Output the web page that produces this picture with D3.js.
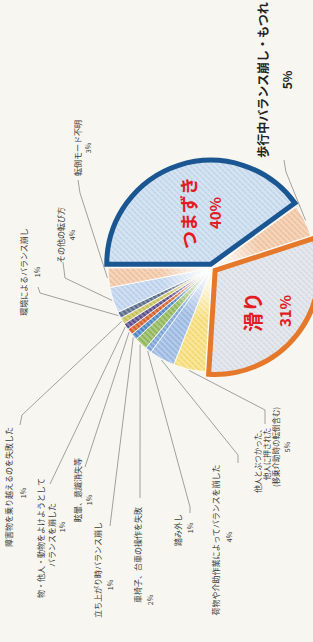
<!DOCTYPE html>
<html>
<head>
<meta charset="utf-8">
<script src="https://cdn.jsdelivr.net/npm/d3@7"></script>
<style>
html, body { margin: 0; padding: 0; background: #f7f6f0; }
svg { display: block; font-family: "Noto Sans CJK JP", "Noto Sans", sans-serif; }
</style>
</head>
<body>
<div id="chart"></div>
<script>
'use strict'

/*
 @Data: slices in clockwise order, starting at 滑り
*/
let categories = ['滑り', '他人とぶつかった', '荷物や介助作業', '踏み外し', '車椅子・台車', '立ち上がり時',
  '眩暈・意識消失', '物・他人・動物をよける', '障害物', '環境', 'その他', '転倒モード不明', 'つまずき', '歩行中']
let values = [31, 5, 4, 1, 2, 1, 1, 1, 1, 1, 4, 3, 40, 5]
let labelTexts = [
  ['滑り'],
  ['他人とぶつかった、', '他人に押された', '(移乗介助時の転倒含む)'],
  ['荷物や介助作業によってバランスを崩した'],
  ['踏み外し'],
  ['車椅子、台車の操作を失敗'],
  ['立ち上がり時バランス崩し'],
  ['眩暈、意識消失等'],
  ['物・他人・動物をよけようとして', 'バランスを崩した'],
  ['障害物を乗り越えるのを失敗した'],
  ['環境によるバランス崩し'],
  ['その他の転び方'],
  ['転倒モード不明'],
  ['つまずき'],
  ['歩行中バランス崩し・もつれ']
]
let highlighted = ['滑り', 'つまずき']

/*
 @Styles
*/
let fillColors = ['#dde1e8', '#f8de7a', '#9dbbe3', '#7ea6d8', '#93b85c', '#4f88c6', '#d9622b',
  '#5c4f8c', '#c9c25a', '#5b6d8a', '#c0d4ee', '#f3c7a5', '#c8dbef', '#f3c7a5']
let borderColors = {'滑り': '#e5782a', 'つまずき': '#1a5792'}

/*
 @Layout (the picture is turned a quarter turn, text reads bottom to top)
*/
let width = 313
let height = 642
let cx = 212
let cy = 268
let radius = 104
let explode = 4
let startDeg = 72

// label line centres, percent position and leader points, by category
let labelLayout = {
  '滑り': {lines: [[252, 312]], pct: [284, 311], size: 20, pctSize: 15},
  'つまずき': {lines: [[188, 213]], pct: [214, 213], size: 18, pctSize: 15},
  '他人とぶつかった': {lines: [[257, 459], [266, 454], [275, 447]], pct: [287, 447], leader: [[265, 424], [265, 410]], size: 7.5},
  '荷物や介助作業': {lines: [[215, 540]], pct: [229, 537], leader: [[238, 463], [238, 455]]},
  '踏み外し': {lines: [[177, 530]], pct: [190, 528], leader: [[190, 513], [190, 507]]},
  '車椅子・台車': {lines: [[137, 555]], pct: [150, 600], leader: [[140, 498]]},
  '立ち上がり時': {lines: [[97, 570]], pct: [110, 585], leader: [[110, 526]]},
  '眩暈・意識消失': {lines: [[77, 490]], pct: [89, 500], leader: [[85, 467]]},
  '物・他人・動物をよける': {lines: [[40, 538], [51, 535]], pct: [62, 527], leader: [[50, 484]]},
  '障害物': {lines: [[8, 487]], pct: [23, 493], leader: [[20, 425], [22, 415]]},
  '環境': {lines: [[23, 272]], pct: [37, 272], leader: [[38, 287], [40, 293]]},
  'その他': {lines: [[60, 235]], pct: [72, 235], leader: [[63, 262], [65, 278]]},
  '転倒モード不明': {lines: [[77, 148]], pct: [88, 148], leader: [[78, 180], [80, 193]]},
  '歩行中': {lines: [[262, 80]], pct: [286, 80], leader: [[284, 160], [286, 172]], size: 12, pctSize: 12, bold: true}
}

let svg = d3.select('#chart').append('svg')
  .attr('width', width)
  .attr('height', height)

svg.append('rect')
  .attr('width', width)
  .attr('height', height)
  .attr('fill', '#f7f6f0')

/*
 Striped fills, one pattern per slice
*/
let defs = svg.append('defs')
fillColors.forEach(function (c, i) {
  let p = defs.append('pattern')
    .attr('id', 'pat' + i)
    .attr('patternUnits', 'userSpaceOnUse')
    .attr('width', 4)
    .attr('height', 4)
    .attr('patternTransform', 'rotate(-45)')
  p.append('rect').attr('width', 4).attr('height', 4).attr('fill', c)
  p.append('line')
    .attr('x1', 1).attr('y1', 0).attr('x2', 1).attr('y2', 4)
    .attr('stroke', '#fff')
    .attr('stroke-opacity', 0.45)
    .attr('stroke-width', 1.2)
  p.append('circle')
    .attr('cx', 3).attr('cy', 2).attr('r', 0.45)
    .attr('fill', '#000')
    .attr('fill-opacity', 0.22)
})

// white glow in the middle of the small slices
let glow = defs.append('radialGradient').attr('id', 'glow')
glow.append('stop').attr('offset', '0%').attr('stop-color', '#fff').attr('stop-opacity', 1)
glow.append('stop').attr('offset', '35%').attr('stop-color', '#fff').attr('stop-opacity', 0.75)
glow.append('stop').attr('offset', '100%').attr('stop-color', '#fff').attr('stop-opacity', 0)

let pie = d3.pie()
  .sort(null)
  .value(function (d) { return d })
  .startAngle(startDeg * Math.PI / 180)
  .endAngle((startDeg + 360) * Math.PI / 180)

let arcs = pie(values)
let arc = d3.arc().innerRadius(0).outerRadius(radius)

function midAngle(d) {
  return (d.startAngle + d.endAngle) / 2
}
function isBig(i) {
  return highlighted.indexOf(categories[i]) >= 0
}
function offset(d, i) {
  if (!isBig(i)) return [0, 0]
  let m = midAngle(d)
  return [Math.sin(m) * explode, -Math.cos(m) * explode]
}

let pieG = svg.append('g')
  .attr('transform', 'translate(' + cx + ',' + cy + ')')

let smallIdx = d3.range(arcs.length).filter(function (i) { return !isBig(i) })
let bigIdx = d3.range(arcs.length).filter(isBig)

pieG.selectAll('path.small')
  .data(smallIdx)
  .enter()
  .append('path')
  .attr('class', 'small')
  .attr('d', function (i) { return arc(arcs[i]) })
  .attr('fill', function (i) { return 'url(#pat' + i + ')' })
  .attr('stroke', '#fff')
  .attr('stroke-width', 0.8)

pieG.append('circle')
  .attr('r', radius * 0.5)
  .attr('fill', 'url(#glow)')

pieG.selectAll('path.big')
  .data(bigIdx)
  .enter()
  .append('path')
  .attr('class', 'big')
  .attr('d', function (i) { return arc(arcs[i]) })
  .attr('transform', function (i) {
    let o = offset(arcs[i], i)
    return 'translate(' + o[0] + ',' + o[1] + ')'
  })
  .attr('fill', function (i) { return 'url(#pat' + i + ')' })
  .attr('stroke', function (i) { return borderColors[categories[i]] })
  .attr('stroke-width', 5)
  .attr('stroke-linejoin', 'miter')

/*
 Leader lines: from the slice rim to the label
*/
let leaderG = svg.append('g')
arcs.forEach(function (d, i) {
  let lay = labelLayout[categories[i]]
  if (!lay.leader) return
  let m = midAngle(d)
  let rim = [cx + Math.sin(m) * (radius + 1), cy - Math.cos(m) * (radius + 1)]
  let pts = lay.leader.slice().concat([rim])
  leaderG.append('path')
    .attr('d', d3.line()(pts))
    .attr('fill', 'none')
    .attr('stroke', '#8a8a8a')
    .attr('stroke-width', 0.8)
})

/*
 Labels, turned to read bottom to top
*/
let textG = svg.append('g')
arcs.forEach(function (d, i) {
  let name = categories[i]
  let lay = labelLayout[name]
  let big = isBig(i)
  let size = lay.size || 8
  let color = big ? '#e31b23' : (lay.bold ? '#222' : '#3a3a3a')
  let weight = big || lay.bold ? 700 : 400
  labelTexts[i].forEach(function (t, k) {
    let p = lay.lines[k]
    textG.append('text')
      .attr('transform', 'translate(' + p[0] + ',' + p[1] + ') rotate(-90)')
      .attr('text-anchor', 'middle')
      .attr('dominant-baseline', 'central')
      .style('font-size', size + 'px')
      .style('font-weight', weight)
      .attr('fill', color)
      .text(t)
  })
  textG.append('text')
    .attr('transform', 'translate(' + lay.pct[0] + ',' + lay.pct[1] + ') rotate(-90)')
    .attr('text-anchor', 'middle')
    .attr('dominant-baseline', 'central')
    .style('font-size', (lay.pctSize || 7) + 'px')
    .style('font-weight', weight)
    .attr('fill', color)
    .text(values[i] + '%')
})
</script>
</body>
</html>
